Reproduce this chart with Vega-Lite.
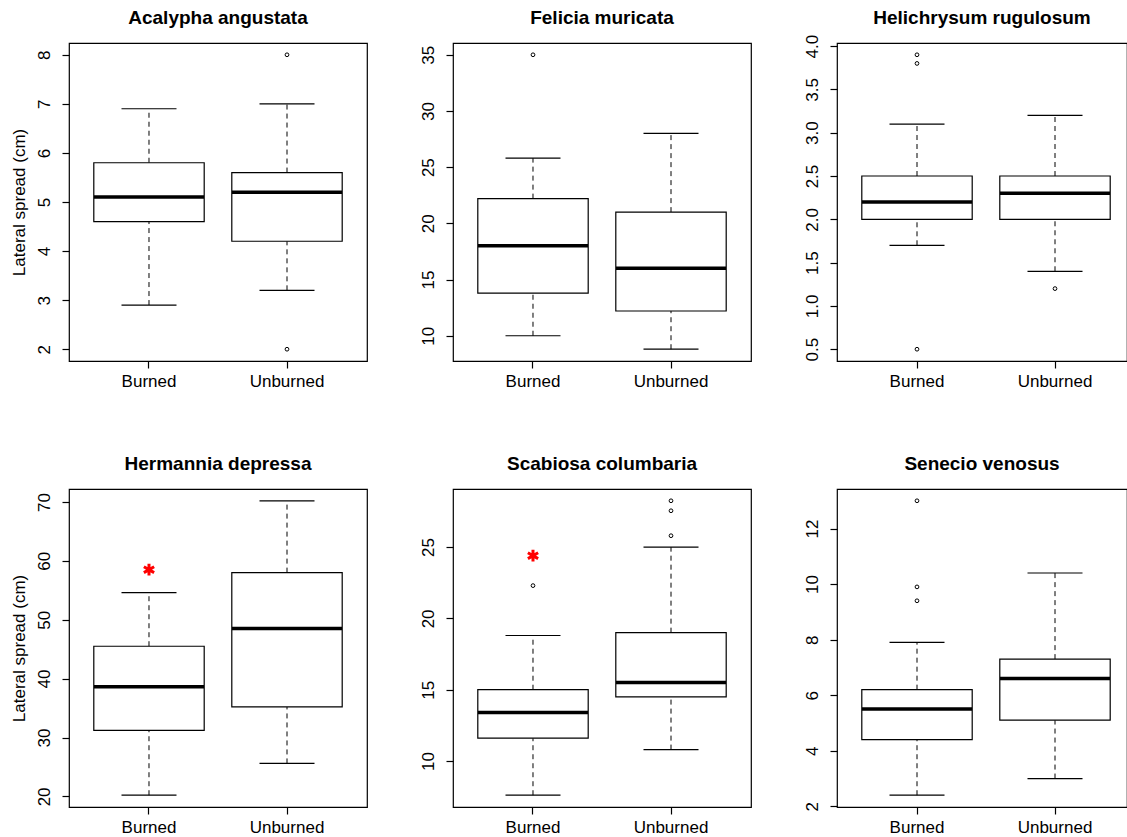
{
  "$schema": "https://vega.github.io/schema/vega-lite/v6.json",
  "background": "white",
  "padding": {"left": 9, "top": 8, "right": 0, "bottom": 0},
  "datasets": {
    "boxes": [
      {"species": "Acalypha angustata", "group": "Burned", "lower": 2.9, "q1": 4.6, "median": 5.1, "q3": 5.8, "upper": 6.9},
      {"species": "Acalypha angustata", "group": "Unburned", "lower": 3.2, "q1": 4.2, "median": 5.2, "q3": 5.6, "upper": 7.0},
      {"species": "Felicia muricata", "group": "Burned", "lower": 10, "q1": 13.8, "median": 18, "q3": 22.2, "upper": 25.8},
      {"species": "Felicia muricata", "group": "Unburned", "lower": 8.8, "q1": 12.2, "median": 16, "q3": 21, "upper": 28},
      {"species": "Helichrysum rugulosum", "group": "Burned", "lower": 1.7, "q1": 2.0, "median": 2.2, "q3": 2.5, "upper": 3.1},
      {"species": "Helichrysum rugulosum", "group": "Unburned", "lower": 1.4, "q1": 2.0, "median": 2.3, "q3": 2.5, "upper": 3.2},
      {"species": "Hermannia depressa", "group": "Burned", "lower": 20.2, "q1": 31.2, "median": 38.6, "q3": 45.5, "upper": 54.6},
      {"species": "Hermannia depressa", "group": "Unburned", "lower": 25.6, "q1": 35.2, "median": 48.5, "q3": 58, "upper": 70.2},
      {"species": "Scabiosa columbaria", "group": "Burned", "lower": 7.6, "q1": 11.6, "median": 13.4, "q3": 15.0, "upper": 18.8},
      {"species": "Scabiosa columbaria", "group": "Unburned", "lower": 10.8, "q1": 14.5, "median": 15.5, "q3": 19.0, "upper": 25},
      {"species": "Senecio venosus", "group": "Burned", "lower": 2.4, "q1": 4.4, "median": 5.5, "q3": 6.2, "upper": 7.9},
      {"species": "Senecio venosus", "group": "Unburned", "lower": 3.0, "q1": 5.1, "median": 6.6, "q3": 7.3, "upper": 10.4}
    ],
    "outliers": [
      {"species": "Acalypha angustata", "group": "Unburned", "value": 8},
      {"species": "Acalypha angustata", "group": "Unburned", "value": 2},
      {"species": "Felicia muricata", "group": "Burned", "value": 35},
      {"species": "Helichrysum rugulosum", "group": "Burned", "value": 3.9},
      {"species": "Helichrysum rugulosum", "group": "Burned", "value": 3.8},
      {"species": "Helichrysum rugulosum", "group": "Burned", "value": 0.5},
      {"species": "Helichrysum rugulosum", "group": "Unburned", "value": 1.2},
      {"species": "Scabiosa columbaria", "group": "Burned", "value": 22.3},
      {"species": "Scabiosa columbaria", "group": "Unburned", "value": 28.25},
      {"species": "Scabiosa columbaria", "group": "Unburned", "value": 27.55},
      {"species": "Scabiosa columbaria", "group": "Unburned", "value": 25.8},
      {"species": "Senecio venosus", "group": "Burned", "value": 13},
      {"species": "Senecio venosus", "group": "Burned", "value": 9.9},
      {"species": "Senecio venosus", "group": "Burned", "value": 9.4}
    ],
    "stars": [
      {"species": "Hermannia depressa", "group": "Burned", "value": 58.5},
      {"species": "Scabiosa columbaria", "group": "Burned", "value": 24.4}
    ]
  },
  "columns": 3,
  "spacing": {"row": 128, "column": 86},
  "bounds": "flush",
  "concat": [
    {
      "title": "Acalypha angustata", "width": 298, "height": 318,
      "encoding": {"x": {"field": "group", "type": "nominal", "title": null, "scale": {"type": "band", "domain": ["Burned", "Unburned"], "paddingInner": 0, "paddingOuter": 0.0797, "align": 0.5}}},
      "layer": [
        {"data": {"name": "boxes"}, "transform": [{"filter": "datum.species === 'Acalypha angustata'"}], "mark": {"type": "rule", "color": "black", "strokeWidth": 1, "strokeDash": [5, 4]}, "encoding": {"y": {"field": "q3", "type": "quantitative", "title": "Lateral spread (cm)", "scale": {"domain": [1.76, 8.24], "nice": false, "zero": false}, "axis": {"values": [2, 3, 4, 5, 6, 7, 8]}}, "y2": {"field": "upper"}}},
        {"data": {"name": "boxes"}, "transform": [{"filter": "datum.species === 'Acalypha angustata'"}], "mark": {"type": "rule", "color": "black", "strokeWidth": 1, "strokeDash": [5, 4]}, "encoding": {"y": {"field": "lower", "type": "quantitative", "title": "Lateral spread (cm)"}, "y2": {"field": "q1"}}},
        {"data": {"name": "boxes"}, "transform": [{"filter": "datum.species === 'Acalypha angustata'"}], "mark": {"type": "bar", "fill": "white", "stroke": "black", "strokeWidth": 1.2, "opacity": 1, "width": {"band": 0.8}}, "encoding": {"y": {"field": "q1", "type": "quantitative", "title": "Lateral spread (cm)"}, "y2": {"field": "q3"}}},
        {"data": {"name": "boxes"}, "transform": [{"filter": "datum.species === 'Acalypha angustata'"}], "mark": {"type": "tick", "orient": "horizontal", "color": "black", "opacity": 1, "size": 110, "thickness": 3.5}, "encoding": {"y": {"field": "median", "type": "quantitative", "title": "Lateral spread (cm)"}}},
        {"data": {"name": "boxes"}, "transform": [{"filter": "datum.species === 'Acalypha angustata'"}], "mark": {"type": "tick", "orient": "horizontal", "color": "black", "opacity": 1, "size": 55, "thickness": 1.2}, "encoding": {"y": {"field": "upper", "type": "quantitative", "title": "Lateral spread (cm)"}}},
        {"data": {"name": "boxes"}, "transform": [{"filter": "datum.species === 'Acalypha angustata'"}], "mark": {"type": "tick", "orient": "horizontal", "color": "black", "opacity": 1, "size": 55, "thickness": 1.2}, "encoding": {"y": {"field": "lower", "type": "quantitative", "title": "Lateral spread (cm)"}}},
        {"data": {"name": "outliers"}, "transform": [{"filter": "datum.species === 'Acalypha angustata'"}], "mark": {"type": "point", "shape": "circle", "filled": false, "color": "black", "size": 14, "strokeWidth": 1, "opacity": 1}, "encoding": {"y": {"field": "value", "type": "quantitative", "title": "Lateral spread (cm)"}}}
      ]
    },
    {
      "title": "Felicia muricata", "width": 298, "height": 318,
      "encoding": {"x": {"field": "group", "type": "nominal", "title": null, "scale": {"type": "band", "domain": ["Burned", "Unburned"], "paddingInner": 0, "paddingOuter": 0.0797, "align": 0.5}}},
      "layer": [
        {"data": {"name": "boxes"}, "transform": [{"filter": "datum.species === 'Felicia muricata'"}], "mark": {"type": "rule", "color": "black", "strokeWidth": 1, "strokeDash": [5, 4]}, "encoding": {"y": {"field": "q3", "type": "quantitative", "title": null, "scale": {"domain": [7.752, 36.048], "nice": false, "zero": false}, "axis": {"values": [10, 15, 20, 25, 30, 35]}}, "y2": {"field": "upper"}}},
        {"data": {"name": "boxes"}, "transform": [{"filter": "datum.species === 'Felicia muricata'"}], "mark": {"type": "rule", "color": "black", "strokeWidth": 1, "strokeDash": [5, 4]}, "encoding": {"y": {"field": "lower", "type": "quantitative", "title": null}, "y2": {"field": "q1"}}},
        {"data": {"name": "boxes"}, "transform": [{"filter": "datum.species === 'Felicia muricata'"}], "mark": {"type": "bar", "fill": "white", "stroke": "black", "strokeWidth": 1.2, "opacity": 1, "width": {"band": 0.8}}, "encoding": {"y": {"field": "q1", "type": "quantitative", "title": null}, "y2": {"field": "q3"}}},
        {"data": {"name": "boxes"}, "transform": [{"filter": "datum.species === 'Felicia muricata'"}], "mark": {"type": "tick", "orient": "horizontal", "color": "black", "opacity": 1, "size": 110, "thickness": 3.5}, "encoding": {"y": {"field": "median", "type": "quantitative", "title": null}}},
        {"data": {"name": "boxes"}, "transform": [{"filter": "datum.species === 'Felicia muricata'"}], "mark": {"type": "tick", "orient": "horizontal", "color": "black", "opacity": 1, "size": 55, "thickness": 1.2}, "encoding": {"y": {"field": "upper", "type": "quantitative", "title": null}}},
        {"data": {"name": "boxes"}, "transform": [{"filter": "datum.species === 'Felicia muricata'"}], "mark": {"type": "tick", "orient": "horizontal", "color": "black", "opacity": 1, "size": 55, "thickness": 1.2}, "encoding": {"y": {"field": "lower", "type": "quantitative", "title": null}}},
        {"data": {"name": "outliers"}, "transform": [{"filter": "datum.species === 'Felicia muricata'"}], "mark": {"type": "point", "shape": "circle", "filled": false, "color": "black", "size": 14, "strokeWidth": 1, "opacity": 1}, "encoding": {"y": {"field": "value", "type": "quantitative", "title": null}}}
      ]
    },
    {
      "title": {"text": "Helichrysum rugulosum", "dy": 9}, "width": 290, "height": 318,
      "encoding": {"x": {"field": "group", "type": "nominal", "title": null, "scale": {"type": "band", "domain": ["Burned", "Unburned"], "paddingInner": 0, "paddingOuter": 0.0507, "align": 0.786}}},
      "layer": [
        {"data": {"name": "boxes"}, "transform": [{"filter": "datum.species === 'Helichrysum rugulosum'"}], "mark": {"type": "rule", "color": "black", "strokeWidth": 1, "strokeDash": [5, 4]}, "encoding": {"y": {"field": "q3", "type": "quantitative", "title": null, "scale": {"domain": [0.364, 4.036], "nice": false, "zero": false}, "axis": {"values": [0.5, 1, 1.5, 2, 2.5, 3, 3.5, 4], "format": ".1f"}}, "y2": {"field": "upper"}}},
        {"data": {"name": "boxes"}, "transform": [{"filter": "datum.species === 'Helichrysum rugulosum'"}], "mark": {"type": "rule", "color": "black", "strokeWidth": 1, "strokeDash": [5, 4]}, "encoding": {"y": {"field": "lower", "type": "quantitative", "title": null}, "y2": {"field": "q1"}}},
        {"data": {"name": "boxes"}, "transform": [{"filter": "datum.species === 'Helichrysum rugulosum'"}], "mark": {"type": "bar", "fill": "white", "stroke": "black", "strokeWidth": 1.2, "opacity": 1, "width": {"band": 0.8}}, "encoding": {"y": {"field": "q1", "type": "quantitative", "title": null}, "y2": {"field": "q3"}}},
        {"data": {"name": "boxes"}, "transform": [{"filter": "datum.species === 'Helichrysum rugulosum'"}], "mark": {"type": "tick", "orient": "horizontal", "color": "black", "opacity": 1, "size": 110, "thickness": 3.5}, "encoding": {"y": {"field": "median", "type": "quantitative", "title": null}}},
        {"data": {"name": "boxes"}, "transform": [{"filter": "datum.species === 'Helichrysum rugulosum'"}], "mark": {"type": "tick", "orient": "horizontal", "color": "black", "opacity": 1, "size": 55, "thickness": 1.2}, "encoding": {"y": {"field": "upper", "type": "quantitative", "title": null}}},
        {"data": {"name": "boxes"}, "transform": [{"filter": "datum.species === 'Helichrysum rugulosum'"}], "mark": {"type": "tick", "orient": "horizontal", "color": "black", "opacity": 1, "size": 55, "thickness": 1.2}, "encoding": {"y": {"field": "lower", "type": "quantitative", "title": null}}},
        {"data": {"name": "outliers"}, "transform": [{"filter": "datum.species === 'Helichrysum rugulosum'"}], "mark": {"type": "point", "shape": "circle", "filled": false, "color": "black", "size": 14, "strokeWidth": 1, "opacity": 1}, "encoding": {"y": {"field": "value", "type": "quantitative", "title": null}}}
      ]
    },
    {
      "title": "Hermannia depressa", "width": 298, "height": 318,
      "encoding": {"x": {"field": "group", "type": "nominal", "title": null, "scale": {"type": "band", "domain": ["Burned", "Unburned"], "paddingInner": 0, "paddingOuter": 0.0797, "align": 0.5}}},
      "layer": [
        {"data": {"name": "boxes"}, "transform": [{"filter": "datum.species === 'Hermannia depressa'"}], "mark": {"type": "rule", "color": "black", "strokeWidth": 1, "strokeDash": [5, 4]}, "encoding": {"y": {"field": "q3", "type": "quantitative", "title": "Lateral spread (cm)", "scale": {"domain": [18.2, 72.2], "nice": false, "zero": false}, "axis": {"values": [20, 30, 40, 50, 60, 70]}}, "y2": {"field": "upper"}}},
        {"data": {"name": "boxes"}, "transform": [{"filter": "datum.species === 'Hermannia depressa'"}], "mark": {"type": "rule", "color": "black", "strokeWidth": 1, "strokeDash": [5, 4]}, "encoding": {"y": {"field": "lower", "type": "quantitative", "title": "Lateral spread (cm)"}, "y2": {"field": "q1"}}},
        {"data": {"name": "boxes"}, "transform": [{"filter": "datum.species === 'Hermannia depressa'"}], "mark": {"type": "bar", "fill": "white", "stroke": "black", "strokeWidth": 1.2, "opacity": 1, "width": {"band": 0.8}}, "encoding": {"y": {"field": "q1", "type": "quantitative", "title": "Lateral spread (cm)"}, "y2": {"field": "q3"}}},
        {"data": {"name": "boxes"}, "transform": [{"filter": "datum.species === 'Hermannia depressa'"}], "mark": {"type": "tick", "orient": "horizontal", "color": "black", "opacity": 1, "size": 110, "thickness": 3.5}, "encoding": {"y": {"field": "median", "type": "quantitative", "title": "Lateral spread (cm)"}}},
        {"data": {"name": "boxes"}, "transform": [{"filter": "datum.species === 'Hermannia depressa'"}], "mark": {"type": "tick", "orient": "horizontal", "color": "black", "opacity": 1, "size": 55, "thickness": 1.2}, "encoding": {"y": {"field": "upper", "type": "quantitative", "title": "Lateral spread (cm)"}}},
        {"data": {"name": "boxes"}, "transform": [{"filter": "datum.species === 'Hermannia depressa'"}], "mark": {"type": "tick", "orient": "horizontal", "color": "black", "opacity": 1, "size": 55, "thickness": 1.2}, "encoding": {"y": {"field": "lower", "type": "quantitative", "title": "Lateral spread (cm)"}}},
        {"data": {"name": "stars"}, "transform": [{"filter": "datum.species === 'Hermannia depressa'"}], "mark": {"type": "point", "shape": "M0,-1L0,1M-0.866,-0.5L0.866,0.5M-0.866,0.5L0.866,-0.5", "filled": false, "color": "#ff0000", "size": 140, "strokeWidth": 3, "opacity": 1}, "encoding": {"y": {"field": "value", "type": "quantitative", "title": "Lateral spread (cm)"}}}
      ]
    },
    {
      "title": "Scabiosa columbaria", "width": 298, "height": 318,
      "encoding": {"x": {"field": "group", "type": "nominal", "title": null, "scale": {"type": "band", "domain": ["Burned", "Unburned"], "paddingInner": 0, "paddingOuter": 0.0797, "align": 0.5}}},
      "layer": [
        {"data": {"name": "boxes"}, "transform": [{"filter": "datum.species === 'Scabiosa columbaria'"}], "mark": {"type": "rule", "color": "black", "strokeWidth": 1, "strokeDash": [5, 4]}, "encoding": {"y": {"field": "q3", "type": "quantitative", "title": null, "scale": {"domain": [6.774, 29.076], "nice": false, "zero": false}, "axis": {"values": [10, 15, 20, 25]}}, "y2": {"field": "upper"}}},
        {"data": {"name": "boxes"}, "transform": [{"filter": "datum.species === 'Scabiosa columbaria'"}], "mark": {"type": "rule", "color": "black", "strokeWidth": 1, "strokeDash": [5, 4]}, "encoding": {"y": {"field": "lower", "type": "quantitative", "title": null}, "y2": {"field": "q1"}}},
        {"data": {"name": "boxes"}, "transform": [{"filter": "datum.species === 'Scabiosa columbaria'"}], "mark": {"type": "bar", "fill": "white", "stroke": "black", "strokeWidth": 1.2, "opacity": 1, "width": {"band": 0.8}}, "encoding": {"y": {"field": "q1", "type": "quantitative", "title": null}, "y2": {"field": "q3"}}},
        {"data": {"name": "boxes"}, "transform": [{"filter": "datum.species === 'Scabiosa columbaria'"}], "mark": {"type": "tick", "orient": "horizontal", "color": "black", "opacity": 1, "size": 110, "thickness": 3.5}, "encoding": {"y": {"field": "median", "type": "quantitative", "title": null}}},
        {"data": {"name": "boxes"}, "transform": [{"filter": "datum.species === 'Scabiosa columbaria'"}], "mark": {"type": "tick", "orient": "horizontal", "color": "black", "opacity": 1, "size": 55, "thickness": 1.2}, "encoding": {"y": {"field": "upper", "type": "quantitative", "title": null}}},
        {"data": {"name": "boxes"}, "transform": [{"filter": "datum.species === 'Scabiosa columbaria'"}], "mark": {"type": "tick", "orient": "horizontal", "color": "black", "opacity": 1, "size": 55, "thickness": 1.2}, "encoding": {"y": {"field": "lower", "type": "quantitative", "title": null}}},
        {"data": {"name": "outliers"}, "transform": [{"filter": "datum.species === 'Scabiosa columbaria'"}], "mark": {"type": "point", "shape": "circle", "filled": false, "color": "black", "size": 14, "strokeWidth": 1, "opacity": 1}, "encoding": {"y": {"field": "value", "type": "quantitative", "title": null}}},
        {"data": {"name": "stars"}, "transform": [{"filter": "datum.species === 'Scabiosa columbaria'"}], "mark": {"type": "point", "shape": "M0,-1L0,1M-0.866,-0.5L0.866,0.5M-0.866,0.5L0.866,-0.5", "filled": false, "color": "#ff0000", "size": 140, "strokeWidth": 3, "opacity": 1}, "encoding": {"y": {"field": "value", "type": "quantitative", "title": null}}}
      ]
    },
    {
      "title": "Senecio venosus", "width": 290, "height": 318,
      "encoding": {"x": {"field": "group", "type": "nominal", "title": null, "scale": {"type": "band", "domain": ["Burned", "Unburned"], "paddingInner": 0, "paddingOuter": 0.0507, "align": 0.786}}},
      "layer": [
        {"data": {"name": "boxes"}, "transform": [{"filter": "datum.species === 'Senecio venosus'"}], "mark": {"type": "rule", "color": "black", "strokeWidth": 1, "strokeDash": [5, 4]}, "encoding": {"y": {"field": "q3", "type": "quantitative", "title": null, "scale": {"domain": [1.976, 13.424], "nice": false, "zero": false}, "axis": {"values": [2, 4, 6, 8, 10, 12]}}, "y2": {"field": "upper"}}},
        {"data": {"name": "boxes"}, "transform": [{"filter": "datum.species === 'Senecio venosus'"}], "mark": {"type": "rule", "color": "black", "strokeWidth": 1, "strokeDash": [5, 4]}, "encoding": {"y": {"field": "lower", "type": "quantitative", "title": null}, "y2": {"field": "q1"}}},
        {"data": {"name": "boxes"}, "transform": [{"filter": "datum.species === 'Senecio venosus'"}], "mark": {"type": "bar", "fill": "white", "stroke": "black", "strokeWidth": 1.2, "opacity": 1, "width": {"band": 0.8}}, "encoding": {"y": {"field": "q1", "type": "quantitative", "title": null}, "y2": {"field": "q3"}}},
        {"data": {"name": "boxes"}, "transform": [{"filter": "datum.species === 'Senecio venosus'"}], "mark": {"type": "tick", "orient": "horizontal", "color": "black", "opacity": 1, "size": 110, "thickness": 3.5}, "encoding": {"y": {"field": "median", "type": "quantitative", "title": null}}},
        {"data": {"name": "boxes"}, "transform": [{"filter": "datum.species === 'Senecio venosus'"}], "mark": {"type": "tick", "orient": "horizontal", "color": "black", "opacity": 1, "size": 55, "thickness": 1.2}, "encoding": {"y": {"field": "upper", "type": "quantitative", "title": null}}},
        {"data": {"name": "boxes"}, "transform": [{"filter": "datum.species === 'Senecio venosus'"}], "mark": {"type": "tick", "orient": "horizontal", "color": "black", "opacity": 1, "size": 55, "thickness": 1.2}, "encoding": {"y": {"field": "lower", "type": "quantitative", "title": null}}},
        {"data": {"name": "outliers"}, "transform": [{"filter": "datum.species === 'Senecio venosus'"}], "mark": {"type": "point", "shape": "circle", "filled": false, "color": "black", "size": 14, "strokeWidth": 1, "opacity": 1}, "encoding": {"y": {"field": "value", "type": "quantitative", "title": null}}}
      ]
    }
  ],
  "config": {
    "font": "Liberation Sans",
    "view": {"stroke": "black", "strokeWidth": 1.2},
    "axis": {"domain": false, "grid": false, "ticks": true, "tickColor": "black", "tickSize": 7, "tickWidth": 1.2, "labelColor": "black", "labelFont": "Liberation Sans", "labelFontSize": 17, "titleFont": "Liberation Sans", "titleFontSize": 17, "titleFontWeight": "normal", "titleColor": "black", "labelOverlap": false, "labelFlush": false},
    "axisY": {"labelAngle": 270, "labelAlign": "center", "labelBaseline": "alphabetic", "labelPadding": 12.5, "titlePadding": 11.5, "titleBaseline": "alphabetic"},
    "axisX": {"labelAngle": 0, "labelAlign": "center", "labelBaseline": "alphabetic", "labelPadding": 18},
    "title": {"font": "Liberation Sans", "fontSize": 19, "fontWeight": "bold", "color": "black", "anchor": "middle", "baseline": "alphabetic", "offset": 15, "frame": "group"}
  }
}
